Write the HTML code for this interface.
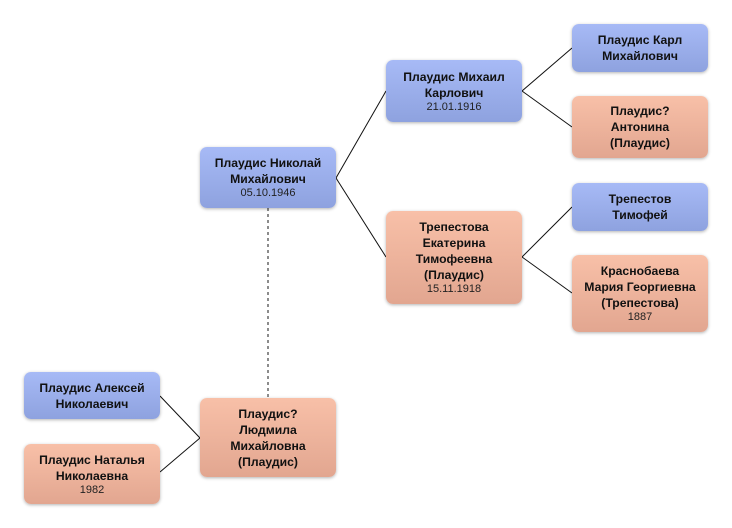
<!DOCTYPE html>
<html><head><meta charset="utf-8"><style>
body{margin:0;width:732px;height:528px;background:#fff;position:relative;font-family:"Liberation Sans",sans-serif;overflow:hidden}
.b{position:absolute;width:136px;border-radius:7px;display:flex;flex-direction:column;justify-content:center;align-items:center;text-align:center;font-size:12.2px;font-weight:bold;line-height:16px;color:#111;box-shadow:0 1px 3px rgba(0,0,0,.3)}
.m{background:linear-gradient(#a7baf6,#8ea2df)}
.f{background:linear-gradient(#f8c0a8,#e2a690)}
.d{font-weight:normal;font-size:11px;line-height:13px;color:#222}
svg{position:absolute;left:0;top:0}
</style></head><body>
<svg width="732" height="528"><g stroke="#111" stroke-width="1" fill="none">
<polyline points="386,91 336,178 386,257"/>
<polyline points="572,48 522,91 572,127"/>
<polyline points="572,207 522,257 572,293"/>
<polyline points="160,396 200,438 160,472"/>
<line x1="268" y1="208" x2="268" y2="398" stroke="#666" stroke-dasharray="3,3" stroke-width="1.5"/>
</g></svg>
<div class="b m" style="left:200px;top:147px;height:61px">Плаудис Николай<br>Михайлович<span class="d">05.10.1946</span></div>
<div class="b m" style="left:386px;top:60px;height:62px">Плаудис Михаил<br>Карлович<span class="d">21.01.1916</span></div>
<div class="b f" style="left:386px;top:211px;height:93px">Трепестова<br>Екатерина<br>Тимофеевна<br>(Плаудис)<span class="d">15.11.1918</span></div>
<div class="b m" style="left:572px;top:24px;height:48px">Плаудис Карл<br>Михайлович</div>
<div class="b f" style="left:572px;top:96px;height:62px">Плаудис?<br>Антонина<br>(Плаудис)</div>
<div class="b m" style="left:572px;top:183px;height:48px">Трепестов<br>Тимофей</div>
<div class="b f" style="left:572px;top:255px;height:77px">Краснобаева<br>Мария Георгиевна<br>(Трепестова)<span class="d">1887</span></div>
<div class="b m" style="left:24px;top:372px;height:47px">Плаудис Алексей<br>Николаевич</div>
<div class="b f" style="left:24px;top:444px;height:60px">Плаудис Наталья<br>Николаевна<span class="d">1982</span></div>
<div class="b f" style="left:200px;top:398px;height:79px">Плаудис?<br>Людмила<br>Михайловна<br>(Плаудис)</div>
</body></html>
